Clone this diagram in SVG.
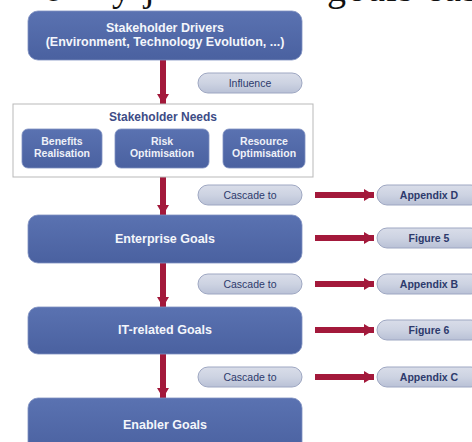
<svg xmlns="http://www.w3.org/2000/svg" width="472" height="442" viewBox="0 0 472 442">
  <style>
    .page { font-family: "Liberation Serif", "Times New Roman", serif; font-size: 38px; fill: #111; }
    .goal rect { fill: url(#goalFill); stroke: #7d8fc0; stroke-width: 0.8; }
    .goal text { font-family: "Liberation Sans", Arial, sans-serif; font-weight: bold; font-size: 12.5px; fill: #f4f6fb; text-anchor: middle; }
    .need rect { fill: url(#goalFill); stroke: #7d8fc0; stroke-width: 0.8; }
    .need text { font-family: "Liberation Sans", Arial, sans-serif; font-weight: bold; font-size: 10.5px; fill: #eef1f8; text-anchor: middle; }
    .pill rect { fill: url(#pillFill); stroke: #9ea7c2; stroke-width: 1; }
    .pill text { font-family: "Liberation Sans", Arial, sans-serif; font-size: 10.5px; fill: #2d3a6c; text-anchor: middle; }
    .pill.ref text { font-weight: bold; font-size: 10.5px; }
    .flow { stroke: #a3193b; stroke-width: 6; fill: none; }
  </style>
  <defs>
    <linearGradient id="goalFill" x1="0" y1="0" x2="0" y2="1">
      <stop offset="0" stop-color="#5a72b1"/>
      <stop offset="1" stop-color="#4a61a0"/>
    </linearGradient>
    <linearGradient id="pillFill" x1="0" y1="0" x2="0" y2="1">
      <stop offset="0" stop-color="#d9dde9"/>
      <stop offset="0.5" stop-color="#cdd3e2"/>
      <stop offset="1" stop-color="#b9c1d6"/>
    </linearGradient>
    <marker id="head" markerUnits="userSpaceOnUse" markerWidth="12" markerHeight="12" refX="10" refY="6" orient="auto">
      <path d="M0,0 L10,6 L0,12 z" fill="#a3193b"/>
    </marker>
  </defs>

  <rect width="472" height="442" fill="#ffffff"/>

  <!-- tail of the running text line above the figure -->
  <text class="page" y="1"><tspan x="44">e</tspan><tspan x="112">y</tspan><tspan x="144">j</tspan><tspan x="327" letter-spacing="1.5">goals cas</tspan></text>

  <!-- connectors -->
  <g id="connectors">
    <line class="flow" x1="163" y1="60" x2="163" y2="104" marker-end="url(#head)"/>
    <line class="flow" x1="163" y1="177" x2="163" y2="215" marker-end="url(#head)"/>
    <line class="flow" x1="163" y1="263" x2="163" y2="307" marker-end="url(#head)"/>
    <line class="flow" x1="163" y1="354" x2="163" y2="398" marker-end="url(#head)"/>
    <line class="flow" x1="315" y1="195" x2="374" y2="195" marker-end="url(#head)"/>
    <line class="flow" x1="315" y1="238" x2="374" y2="238" marker-end="url(#head)"/>
    <line class="flow" x1="315" y1="284" x2="374" y2="284" marker-end="url(#head)"/>
    <line class="flow" x1="315" y1="330" x2="374" y2="330" marker-end="url(#head)"/>
    <line class="flow" x1="315" y1="377" x2="374" y2="377" marker-end="url(#head)"/>
  </g>

  <!-- main chain -->
  <g id="drivers" class="goal">
    <rect x="28" y="11" width="274" height="49" rx="10"/>
    <text x="165" y="32">Stakeholder Drivers</text>
    <text x="165" y="46">(Environment, Technology Evolution, ...)</text>
  </g>

  <g id="needs">
    <rect x="13" y="104" width="300" height="73" fill="#ffffff" stroke="#b9b9b9" stroke-width="1"/>
    <text x="163" y="121" font-family="Liberation Sans, Arial, sans-serif" font-weight="bold" font-size="12" fill="#3d4c86" text-anchor="middle">Stakeholder Needs</text>
    <g id="benefits" class="need">
      <rect x="22" y="129" width="80" height="39" rx="6"/>
      <text x="62" y="145">Benefits</text>
      <text x="62" y="157">Realisation</text>
    </g>
    <g id="risk" class="need">
      <rect x="115" y="129" width="94" height="39" rx="6"/>
      <text x="162" y="145">Risk</text>
      <text x="162" y="157">Optimisation</text>
    </g>
    <g id="resource" class="need">
      <rect x="223" y="129" width="82" height="39" rx="6"/>
      <text x="264" y="145">Resource</text>
      <text x="264" y="157">Optimisation</text>
    </g>
  </g>

  <g id="enterprise-goals" class="goal">
    <rect x="28" y="215" width="274" height="48" rx="10"/>
    <text x="165" y="243">Enterprise Goals</text>
  </g>

  <g id="it-goals" class="goal">
    <rect x="28" y="307" width="274" height="47" rx="10"/>
    <text x="165" y="334">IT-related Goals</text>
  </g>

  <g id="enabler-goals" class="goal">
    <rect x="28" y="398" width="274" height="56" rx="10"/>
    <text x="165" y="429">Enabler Goals</text>
  </g>

  <!-- relation labels -->
  <g id="influence" class="pill">
    <rect x="198" y="73" width="104" height="20" rx="10"/>
    <text x="250" y="87">Influence</text>
  </g>
  <g id="cascade-1" class="pill">
    <rect x="198" y="185" width="104" height="20" rx="10"/>
    <text x="250" y="199">Cascade to</text>
  </g>
  <g id="cascade-2" class="pill">
    <rect x="198" y="274" width="104" height="20" rx="10"/>
    <text x="250" y="288">Cascade to</text>
  </g>
  <g id="cascade-3" class="pill">
    <rect x="198" y="367" width="104" height="20" rx="10"/>
    <text x="250" y="381">Cascade to</text>
  </g>

  <!-- references -->
  <g id="appendix-d" class="pill ref">
    <rect x="377" y="185" width="104" height="20" rx="10"/>
    <text x="429" y="199">Appendix D</text>
  </g>
  <g id="figure-5" class="pill ref">
    <rect x="377" y="228" width="104" height="20" rx="10"/>
    <text x="429" y="242">Figure 5</text>
  </g>
  <g id="appendix-b" class="pill ref">
    <rect x="377" y="274" width="104" height="20" rx="10"/>
    <text x="429" y="288">Appendix B</text>
  </g>
  <g id="figure-6" class="pill ref">
    <rect x="377" y="320" width="104" height="20" rx="10"/>
    <text x="429" y="334">Figure 6</text>
  </g>
  <g id="appendix-c" class="pill ref">
    <rect x="377" y="367" width="104" height="20" rx="10"/>
    <text x="429" y="381">Appendix C</text>
  </g>
</svg>
